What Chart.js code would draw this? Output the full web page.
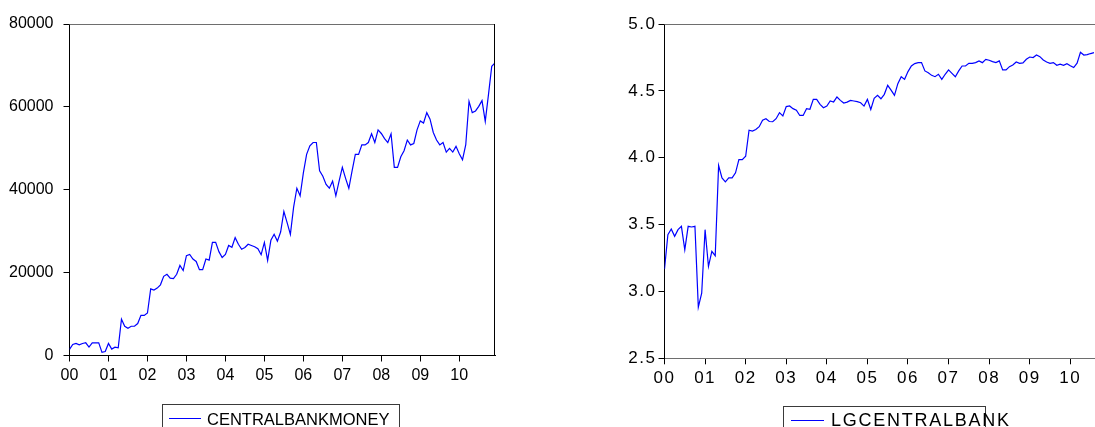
<!DOCTYPE html>
<html>
<head>
<meta charset="utf-8">
<script src="https://cdn.jsdelivr.net/npm/chart.js@4.4.1/dist/chart.umd.min.js"></script>
<style>
  html, body { margin: 0; padding: 0; background: #fff; }
  #wrap { position: relative; width: 1095px; height: 427px; overflow: hidden; }
  canvas { position: absolute; top: 0; }
  #cbm { left: 0; }
  #lgcb { left: 548px; }
</style>
</head>
<body>
<div id="wrap">
  <canvas id="cbm" width="548" height="427"></canvas>
  <canvas id="lgcb" width="547" height="427"></canvas>
</div>
<script>
// Месячные данные, 2000M01 ... 2010M12 (индекс = номер месяца)
const yearLabels = ['00', '01', '02', '03', '04', '05', '06', '07', '08', '09', '10'];
const yearTicks = [0, 12, 24, 36, 48, 60, 72, 84, 96, 108, 120];

const centralBankMoney = [
  1470, 2650, 2930, 2580, 2900, 3070, 2050, 3070, 3030, 3070,
  760, 970, 2900, 1540, 2000, 1850, 8750, 7060, 6590, 7060,
  7060, 7710, 9680, 9680, 10260, 16070, 15810, 16260, 17060, 19100,
  19590, 18660, 18580, 19590, 21730, 20510, 24100, 24380, 23280, 22700,
  20700, 20700, 23280, 23010, 27290, 27290, 25060, 23660, 24380, 26550,
  26120, 28440, 26850, 25640, 26060, 26850, 26550, 26240, 25760, 24320,
  27290, 22960, 27800, 29240, 27610, 29790, 34750, 32060, 29240, 35810,
  40360, 38550, 44060, 48530, 50580, 51400, 51400, 44570, 43250, 41300,
  40360, 42070, 38550, 42070, 45390, 42760, 40360, 44570, 48530, 48530,
  50820, 50820, 51400, 53500, 51400, 54450, 53580, 52360, 51400, 53500,
  45390, 45390, 47970, 49430, 52000, 50820, 51170, 54450, 56620, 56100,
  58610, 57020, 53830, 52000, 50820, 51400, 49090, 50000, 49090, 50470,
  48700, 47250, 50900, 61350, 58610, 59020, 60120, 61500, 56500, 63000,
  69800, 70600
];

const lgCentralBank = [
  3.167, 3.424, 3.467, 3.412, 3.462, 3.487, 3.312, 3.487, 3.482, 3.487,
  2.882, 2.987, 3.462, 3.187, 3.300, 3.267, 3.942, 3.849, 3.819, 3.849,
  3.849, 3.887, 3.986, 3.986, 4.011, 4.206, 4.199, 4.211, 4.232, 4.281,
  4.292, 4.271, 4.269, 4.292, 4.337, 4.312, 4.382, 4.387, 4.367, 4.356,
  4.316, 4.316, 4.367, 4.362, 4.436, 4.436, 4.399, 4.374, 4.387, 4.424,
  4.417, 4.454, 4.429, 4.409, 4.416, 4.429, 4.424, 4.419, 4.411, 4.386,
  4.436, 4.361, 4.444, 4.466, 4.441, 4.474, 4.541, 4.506, 4.466, 4.554,
  4.606, 4.586, 4.644, 4.686, 4.704, 4.711, 4.711, 4.649, 4.636, 4.616,
  4.606, 4.624, 4.586, 4.624, 4.657, 4.631, 4.606, 4.649, 4.686, 4.686,
  4.706, 4.706, 4.711, 4.724, 4.711, 4.736, 4.729, 4.719, 4.711, 4.724,
  4.657, 4.657, 4.681, 4.694, 4.716, 4.706, 4.709, 4.736, 4.753, 4.749,
  4.768, 4.756, 4.731, 4.716, 4.706, 4.711, 4.691, 4.699, 4.691, 4.703,
  4.688, 4.674, 4.707, 4.788, 4.768, 4.771, 4.779, 4.786
];

const LINE_BLUE = 'rgb(0, 0, 255)';
const FONT = "'Liberation Sans', Arial, sans-serif";

Chart.defaults.font.family = FONT;
Chart.defaults.color = '#000';

// рамка графика и легенда в рамке (как в EViews)
const framePlugin = {
  id: 'frame',
  beforeUpdate(chart, args, opts) {
    chart.ctx.letterSpacing = opts.tickSpacing || '0px';
  },
  beforeDraw(chart, args, opts) {
    chart.ctx.letterSpacing = opts.tickSpacing || '0px';
  },
  afterDraw(chart, args, opts) {
    const { ctx, chartArea: a } = chart;
    ctx.save();
    ctx.lineWidth = 1;
    ctx.strokeStyle = '#6e6e6e';
    ctx.beginPath();
    ctx.moveTo(a.left, Math.round(a.top) + 0.5);
    ctx.lineTo(a.right, Math.round(a.top) + 0.5);
    ctx.stroke();
    if (opts.rightBorder) {
      ctx.strokeStyle = '#000';
      ctx.beginPath();
      ctx.moveTo(Math.round(a.right) - 0.5, a.top);
      ctx.lineTo(Math.round(a.right) - 0.5, a.bottom);
      ctx.stroke();
    }
    const lg = opts.legend;
    ctx.strokeStyle = '#3a3a3a';
    ctx.strokeRect(lg.x + 0.5, lg.y + 0.5, lg.w, 40);
    ctx.strokeStyle = LINE_BLUE;
    ctx.beginPath();
    ctx.moveTo(lg.lineFrom, lg.lineY + 0.5);
    ctx.lineTo(lg.lineTo, lg.lineY + 0.5);
    ctx.stroke();
    ctx.font = lg.font;
    ctx.letterSpacing = lg.spacing;
    ctx.fillStyle = '#000';
    ctx.textAlign = 'left';
    ctx.textBaseline = 'alphabetic';
    ctx.fillText(chart.data.datasets[0].label, lg.textX, lg.textY);
    ctx.restore();
  }
};

function makeChart(id, cfg) {
  return new Chart(document.getElementById(id), {
    type: 'line',
    data: {
      datasets: [{
        label: cfg.label,
        data: cfg.values.map((v, i) => ({ x: i, y: v })),
        borderColor: LINE_BLUE,
        borderWidth: 1.2,
        pointRadius: 0,
        tension: 0,
        fill: false
      }]
    },
    options: {
      responsive: false,
      animation: false,
      devicePixelRatio: 1,
      layout: { padding: cfg.padding },
      plugins: {
        legend: { display: false },
        tooltip: { enabled: false },
        frame: cfg.frame
      },
      scales: {
        x: {
          type: 'linear',
          min: 0,
          max: cfg.xMax,
          afterBuildTicks: (scale) => { scale.ticks = yearTicks.map(v => ({ value: v })); },
          afterFit: (scale) => { scale.height = cfg.xHeight; },
          ticks: {
            autoSkip: false,
            maxRotation: 0,
            padding: cfg.xPad,
            font: { size: cfg.tickSize },
            callback: (v) => yearLabels[v / 12]
          },
          grid: { drawOnChartArea: false, drawTicks: true, tickLength: 6, tickColor: '#000' },
          border: { display: true, color: cfg.xAxisColor, width: 1 }
        },
        y: {
          min: cfg.yMin,
          max: cfg.yMax,
          afterFit: (scale) => { scale.width = cfg.yWidth; },
          ticks: {
            stepSize: cfg.yStep,
            padding: cfg.yPad,
            font: { size: cfg.tickSize },
            callback: cfg.yFormat
          },
          grid: { drawOnChartArea: false, drawTicks: true, tickLength: 6, tickColor: '#000' },
          border: { display: true, color: '#000', width: 1 }
        }
      }
    },
    plugins: [framePlugin]
  });
}

// CENTRALBANKMONEY
makeChart('cbm', {
  label: 'CENTRALBANKMONEY',
  values: centralBankMoney,
  xMax: 131,
  yMin: 0, yMax: 80000, yStep: 20000,
  yFormat: (v) => String(v),
  yWidth: 69.5, xHeight: 71.5,
  padding: { left: 0, right: 53, top: 24, bottom: 0 },
  tickSize: 16, xPad: 4, yPad: 10,
  xAxisColor: '#000',
  frame: {
    rightBorder: true,
    tickSpacing: '0px',
    legend: { x: 162, y: 404, w: 237, lineFrom: 169, lineTo: 201, lineY: 418,
      textX: 207, textY: 425, font: "16.5px " + FONT, spacing: '0px' }
  }
});

// LGCENTRALBANK
makeChart('lgcb', {
  label: 'LGCENTRALBANK',
  values: lgCentralBank,
  xMax: 127.3,
  yMin: 2.5, yMax: 5.0, yStep: 0.5,
  yFormat: (v) => v.toFixed(1),
  yWidth: 116.5, xHeight: 68.7,
  padding: { left: 0, right: 0, top: 24, bottom: 0 },
  tickSize: 17, xPad: 4, yPad: 2,
  xAxisColor: '#6e6e6e',
  frame: {
    rightBorder: false,
    tickSpacing: '1.5px',
    legend: { x: 235, y: 406, w: 202, lineFrom: 243, lineTo: 276, lineY: 420,
      textX: 283, textY: 426, font: "18px " + FONT, spacing: '1.75px' }
  }
});
</script>
</body>
</html>
